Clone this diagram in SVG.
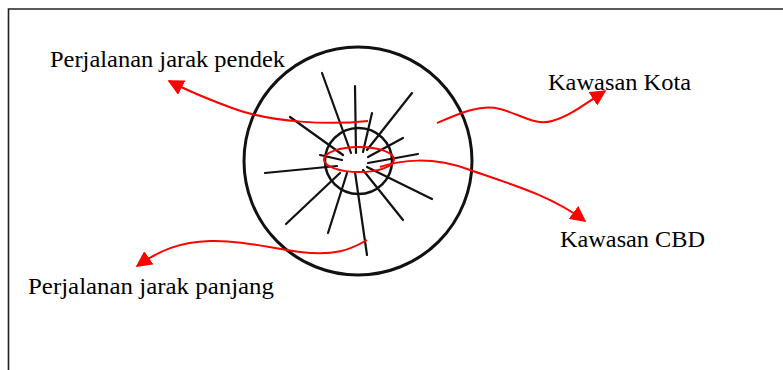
<svg xmlns="http://www.w3.org/2000/svg" width="783" height="370" viewBox="0 0 783 370">
<style>
.lbl{font-family:"Liberation Serif","Times New Roman",serif;font-size:24px;fill:#000}
.spoke{stroke:#111;stroke-width:2.2;stroke-linecap:round;fill:none}
.red{stroke:#ff0000;stroke-width:2;fill:none}
</style>
<defs>
<marker id="ah" viewBox="0 0 10 10" refX="9" refY="5" markerWidth="8" markerHeight="8" markerUnits="userSpaceOnUse" orient="auto">
<path d="M0,0 L10,5 L0,10 z" fill="#ff0000"/>
</marker>
<marker id="ahb" viewBox="0 0 10 10" refX="9" refY="5" markerWidth="16" markerHeight="16" markerUnits="userSpaceOnUse" orient="auto">
<path d="M0,0 L10,5 L0,10 z" fill="#ff0000"/>
</marker>
</defs>
<rect width="783" height="370" fill="#fff"/>
<path d="M8.5 370 V9 H783" fill="none" stroke="#222" stroke-width="1.6"/>

<g id="kota">
<ellipse cx="358" cy="161" rx="114" ry="114" fill="none" stroke="#111" stroke-width="3"/>
<g id="spokes">
<line class="spoke" x1="322" y1="73" x2="351" y2="153"/>
<line class="spoke" x1="355" y1="86" x2="356" y2="153"/>
<line class="spoke" x1="412" y1="93" x2="367" y2="150"/>
<line class="spoke" x1="372" y1="113" x2="363" y2="152"/>
<line class="spoke" x1="290" y1="117" x2="343" y2="155"/>
<line class="spoke" x1="403" y1="138" x2="368" y2="157"/>
<line class="spoke" x1="418" y1="154" x2="368" y2="163"/>
<line class="spoke" x1="320" y1="155" x2="342" y2="160"/>
<line class="spoke" x1="265" y1="173" x2="337" y2="166"/>
<line class="spoke" x1="432" y1="199" x2="367" y2="167"/>
<line class="spoke" x1="403" y1="220" x2="363" y2="170"/>
<line class="spoke" x1="367" y1="255" x2="355" y2="172"/>
<line class="spoke" x1="328" y1="233" x2="347" y2="173"/>
<line class="spoke" x1="286" y1="224" x2="340" y2="173"/>
</g>
</g>
<g id="cbd">
<ellipse cx="358.5" cy="161" rx="33.5" ry="33" fill="none" stroke="#111" stroke-width="2.5"/>
<ellipse cx="359" cy="159.5" rx="35" ry="12.5" fill="none" stroke="#ff0000" stroke-width="2"/>
</g>

<g id="connectors">
<path class="red" marker-end="url(#ahb)" d="M368 121 C330 125 272 123 232 108 C205 98 190 92 169 81"/>
<path class="red" marker-end="url(#ahb)" d="M437 123 C460 113 480 104 500 109 C520 114 535 126 552 121 C570 116 585 104 605 91"/>
<path class="red" marker-end="url(#ahb)" d="M380 167 C400 160 432 156 470 170 C510 184 550 195 585 221"/>
<path class="red" marker-end="url(#ahb)" d="M367 240 C350 250 335 256 300 252 C270 248 240 240 210 241 C180 242 160 250 137 266"/>
</g>

<g id="label-pendek"><text class="lbl" x="50" y="66.5" textLength="235" lengthAdjust="spacingAndGlyphs">Perjalanan jarak pendek</text></g>
<g id="label-kota"><text class="lbl" x="548" y="90" textLength="143" lengthAdjust="spacingAndGlyphs">Kawasan Kota</text></g>
<g id="label-cbd"><text class="lbl" x="560" y="246.5" textLength="145" lengthAdjust="spacingAndGlyphs">Kawasan CBD</text></g>
<g id="label-panjang"><text class="lbl" x="28" y="294" textLength="246" lengthAdjust="spacingAndGlyphs">Perjalanan jarak panjang</text></g>
</svg>
